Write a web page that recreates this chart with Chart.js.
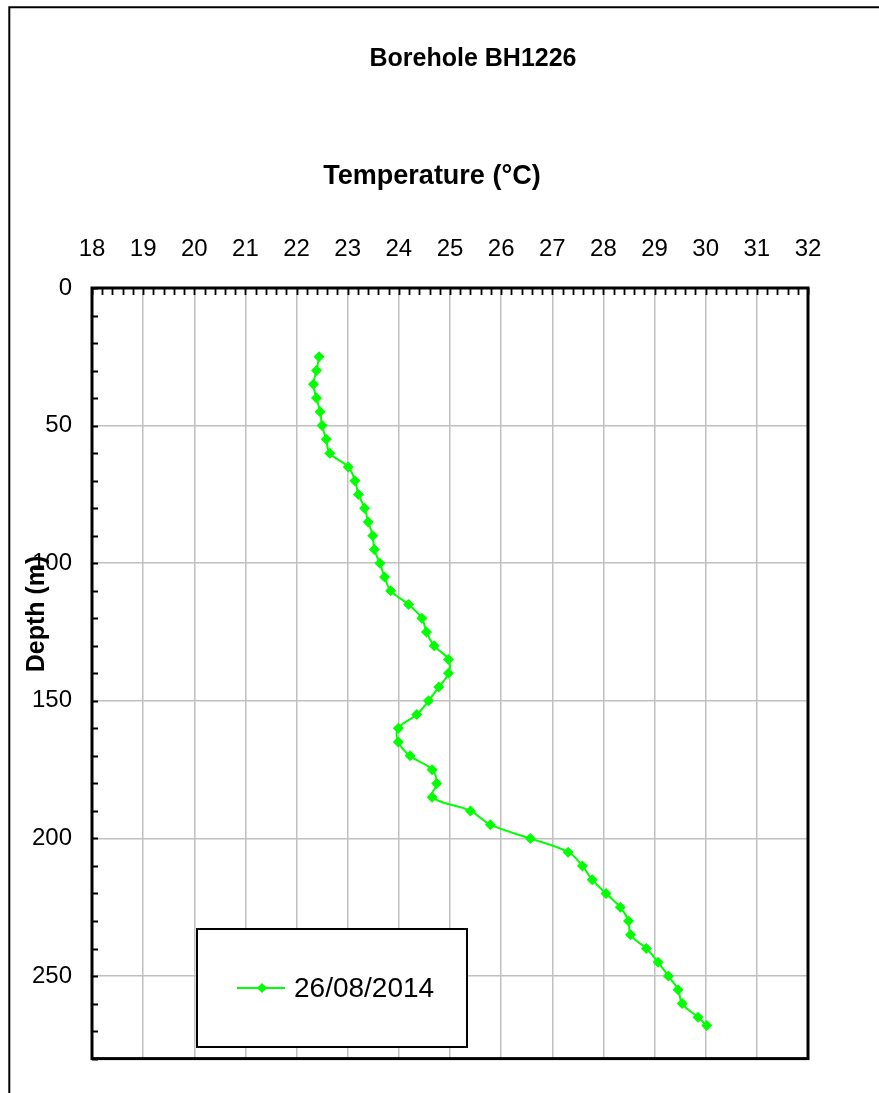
<!DOCTYPE html>
<html>
<head>
<meta charset="utf-8">
<script src="https://cdn.jsdelivr.net/npm/chart.js@4"></script>
<style>
    body { margin: 0; background: #fff; }
    #wrap { width: 879px; height: 1093px; position: relative; }
</style>
</head>
<body>
<div id="wrap"><canvas id="boreholeChart"></canvas></div>
<script>
// depth in metres, temperature in °C
const depths = [25, 30, 35, 40, 45, 50, 55, 60, 65, 70, 75, 80, 85, 90, 95, 100, 105, 110, 115, 120,
    125, 130, 135, 140, 145, 150, 155, 160, 165, 170, 175, 180, 185, 190, 195, 200, 205, 210, 215, 220,
    225, 230, 235, 240, 245, 250, 255, 260, 265, 268]
const temps = [22.44, 22.39, 22.33, 22.39, 22.46, 22.50, 22.58, 22.65, 23.01, 23.14, 23.21, 23.33, 23.40, 23.49, 23.52, 23.63, 23.72, 23.84, 24.19, 24.45,
    24.54, 24.69, 24.97, 24.97, 24.78, 24.58, 24.35, 23.99, 23.99, 24.22, 24.65, 24.74, 24.65, 25.40, 25.79, 26.57, 27.31, 27.59, 27.78, 28.05,
    28.33, 28.49, 28.53, 28.84, 29.07, 29.27, 29.46, 29.54, 29.85, 30.02]
const seriesLabel = "26/08/2014"
const chartTitle = "Borehole BH1226"
const xTitle = "Temperature (°C)"
const yTitle = "Depth (m)"
const tempMin = 18
const tempMax = 32
const depthMax = 280

const points = depths.map((d, i) => ({ x: temps[i], y: d }))

// frame, inward minor ticks, titles and the boxed legend
const decor = {
    id: "decor",
    afterDatasetsDraw(chart) {
        const c = chart.ctx
        const a = chart.chartArea
        const xs = chart.scales.x
        const ys = chart.scales.y
        c.save()

        // outer border (left + top only visible)
        c.strokeStyle = "#000"
        c.lineWidth = 2
        c.beginPath()
        c.moveTo(9.3, 1093)
        c.lineTo(9.3, 7.3)
        c.lineTo(879, 7.3)
        c.stroke()

        // minor ticks pointing inward
        c.lineWidth = 1.8
        c.beginPath()
        for (let v = tempMin; v <= tempMax + 0.001; v += 0.2) {
            const px = Math.round(xs.getPixelForValue(v)) + 0.5
            c.moveTo(px, a.top)
            c.lineTo(px, a.top + 7)
        }
        for (let d = 0; d <= depthMax; d += 10) {
            const py = Math.round(ys.getPixelForValue(d)) + 0.5
            c.moveTo(a.left, py)
            c.lineTo(a.left + 6, py)
        }
        c.stroke()

        // plot frame
        c.lineWidth = 3
        c.strokeRect(a.left, a.top, a.right - a.left, a.bottom - a.top)

        // titles
        c.fillStyle = "#000"
        c.textAlign = "center"
        c.textBaseline = "middle"
        c.font = "bold 25px 'Liberation Sans', Arial, sans-serif"
        c.fillText(chartTitle, 473, 59)
        c.font = "bold 27px 'Liberation Sans', Arial, sans-serif"
        c.fillText(xTitle, 432, 177)
        c.save()
        c.translate(37, 614)
        c.rotate(-Math.PI / 2)
        c.font = "bold 25px 'Liberation Sans', Arial, sans-serif"
        c.fillText(yTitle, 0, 0)
        c.restore()

        // legend box
        const ds = chart.data.datasets[0]
        c.fillStyle = "#fff"
        c.fillRect(197, 929, 270, 118)
        c.lineWidth = 2
        c.strokeStyle = "#000"
        c.strokeRect(197, 929, 270, 118)
        c.strokeStyle = ds.borderColor
        c.lineWidth = 2
        c.beginPath()
        c.moveTo(237, 988)
        c.lineTo(285, 988)
        c.stroke()
        c.fillStyle = ds.borderColor
        c.beginPath()
        c.moveTo(262, 983)
        c.lineTo(267, 988)
        c.lineTo(262, 993)
        c.lineTo(257, 988)
        c.closePath()
        c.fill()
        c.fillStyle = "#000"
        c.textAlign = "left"
        c.font = "28px 'Liberation Sans', Arial, sans-serif"
        c.fillText(ds.label, 294, 989)

        c.restore()
    }
}

const ctx = document.getElementById("boreholeChart")

new Chart(ctx, {
    type: "scatter",
    data: {
        datasets: [{
            label: seriesLabel,
            data: points,
            showLine: true,
            tension: 0.4,
            borderColor: "#00ff00",
            backgroundColor: "#00ff00",
            borderWidth: 2,
            pointStyle: "rectRot",
            pointRadius: 5.5,
            pointHoverRadius: 5.5,
            pointBorderWidth: 0
        }]
    },
    options: {
        responsive: true,
        maintainAspectRatio: false,
        animation: false,
        layout: { padding: { top: 200, left: 0, right: 71, bottom: 17 } },
        plugins: {
            legend: { display: false },
            title: { display: false },
            tooltip: { enabled: false }
        },
        scales: {
            x: {
                type: "linear",
                position: "top",
                min: tempMin,
                max: tempMax,
                afterFit(s) { s.height = 88 },
                ticks: {
                    stepSize: 1,
                    padding: 24,
                    color: "#000",
                    font: { family: "'Liberation Sans', Arial, sans-serif", size: 24 }
                },
                grid: { color: "#c0c0c0", lineWidth: 1.5, drawTicks: false },
                border: { display: false }
            },
            y: {
                type: "linear",
                reverse: true,
                min: 0,
                max: depthMax,
                afterFit(s) { s.width = 92 },
                ticks: {
                    stepSize: 50,
                    includeBounds: false,
                    padding: 20,
                    color: "#000",
                    font: { family: "'Liberation Sans', Arial, sans-serif", size: 24 }
                },
                grid: { color: "#c0c0c0", lineWidth: 1.5, drawTicks: false },
                border: { display: false }
            }
        }
    },
    plugins: [decor]
})
</script>
</body>
</html>
